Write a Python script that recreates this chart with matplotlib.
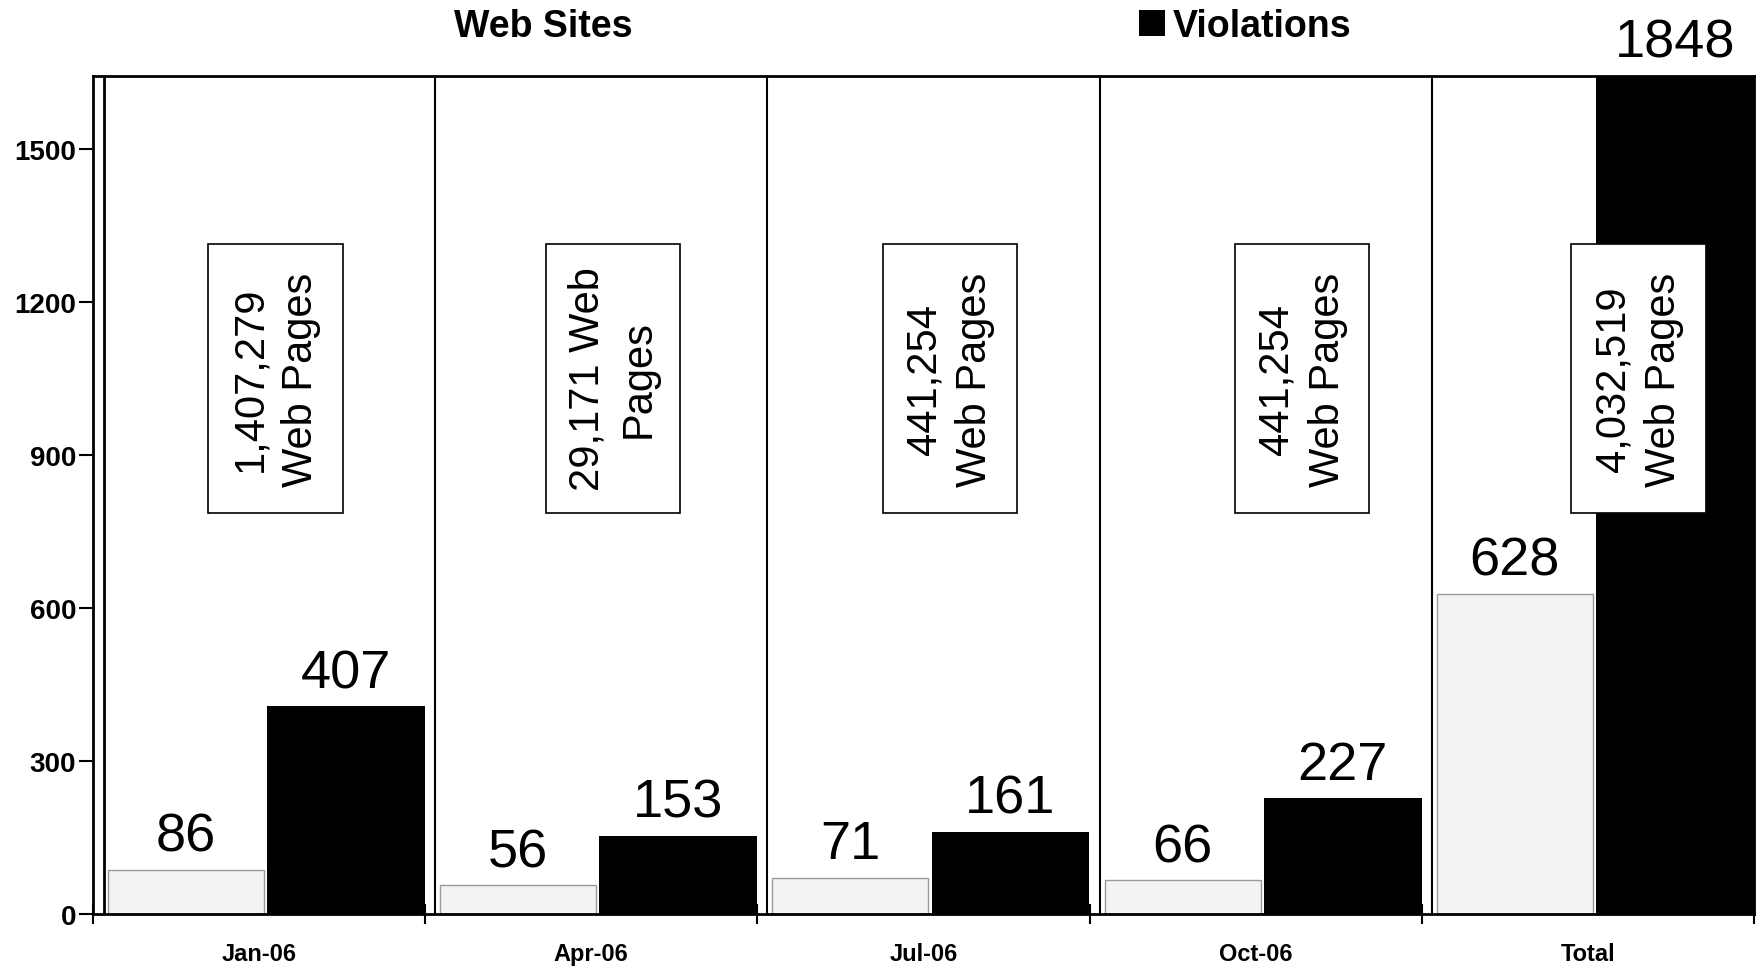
import numpy as np
import matplotlib.pyplot as plt
from matplotlib.patches import Patch, Rectangle

categories = ["Jan-06", "Apr-06", "Jul-06", "Oct-06", "Total"]
web_sites = [86, 56, 71, 66, 628]
violations = [407, 153, 161, 227, 1848]
page_notes = ["1,407,279\nWeb Pages", "29,171 Web\nPages", "441,254\nWeb Pages",
              "441,254\nWeb Pages", "4,032,519\nWeb Pages"]
yticks = [0, 300, 600, 900, 1200, 1500]

plt.rcParams['font.family'] = ['Liberation Sans', 'DejaVu Sans']

fig = plt.figure(figsize=(17.6, 9.7), dpi=100)
ax = fig.add_axes([0.0528, 0.0567, 0.9438, 0.8639])
x = np.arange(len(categories))
ytop = 1643

# bars (3D look of the original only hinted at by the back wall lines)
ax.bar(x - 0.22, web_sites, width=0.47, color='#f3f3f3', edgecolor='#9a9a9a',
       linewidth=1, zorder=2)
ax.bar(x + 0.262, violations, width=0.475, color='black', zorder=2)

# back wall / dividers
ax.axvline(-0.5 + 0.033, color='black', lw=2, zorder=1)
for b in np.arange(0.5, len(categories), 1.0):
    ax.axvline(b + 0.03, color='black', lw=1.5, zorder=1)

# value labels
for xi, v in zip(x - 0.22, web_sites):
    ax.annotate(str(v), (xi, v), xytext=(0, 6), textcoords='offset points',
                ha='center', va='bottom', fontsize=39, zorder=5)
for xi, v in zip(x + 0.262, violations):
    ax.annotate(str(v), (xi, min(v, ytop)), xytext=(0, 6), textcoords='offset points',
                ha='center', va='bottom', fontsize=39, annotation_clip=False, zorder=5)

# boxed notes
box_off = [0.05, 0.066, 0.08, 0.14, 0.153]
for xi, off, note in zip(x, box_off, page_notes):
    cx = xi + off
    ax.add_patch(Rectangle((cx - 0.2025, 786), 0.405, 528, facecolor='white',
                           edgecolor='black', lw=1.2, zorder=6))
    ax.text(cx, 1050, note, rotation=90, ha='center', va='center', fontsize=30,
            multialignment='center', linespacing=1.35, zorder=7)

ax.set_xlim(-0.5, len(categories) - 0.5)
ax.set_ylim(0, ytop)
ax.set_yticks(yticks)
ax.set_yticklabels([str(t) for t in yticks], fontsize=20, fontweight='bold')
ax.tick_params(axis='y', length=10, width=1.5, pad=2)
ax.set_xticks(x)
ax.set_xticklabels(categories, fontsize=17, fontweight='bold')
ax.tick_params(axis='x', which='major', length=0, pad=20)
ax.set_xticks(np.arange(-0.5, len(categories), 1.0), minor=True)
ax.tick_params(axis='x', which='minor', length=14, width=1.5, direction='inout')
for s in ax.spines.values():
    s.set_linewidth(2)

handles = [Patch(facecolor='white', edgecolor='none'), Patch(facecolor='black')]
fig.legend(handles, ['Web Sites', 'Violations'], ncol=2, loc='center left',
           bbox_to_anchor=(0.239, 0.972), frameon=False,
           prop={'size': 27, 'weight': 'bold'}, handlelength=0.7, handleheight=0.7,
           handletextpad=0.2, columnspacing=13.5, borderpad=0, borderaxespad=0)

fig.savefig('out.png', dpi=100)
